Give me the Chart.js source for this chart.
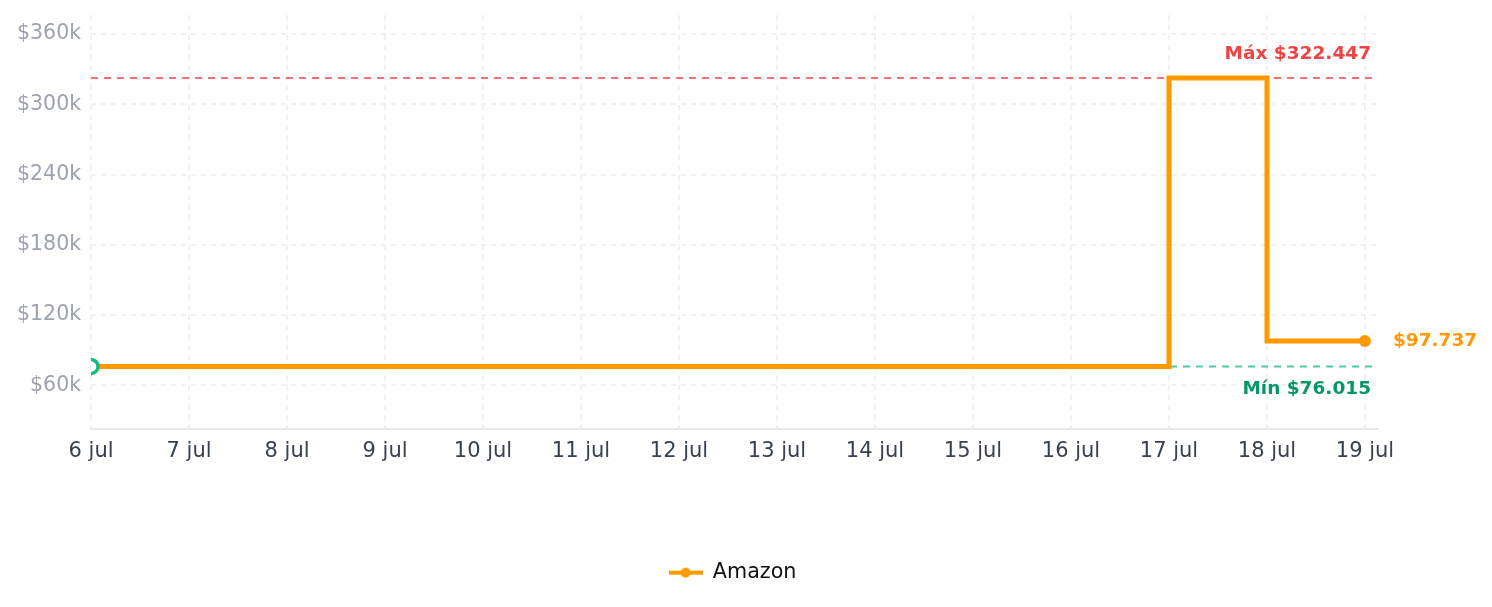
<!DOCTYPE html>
<html>
<head>
<meta charset="utf-8">
<script src="https://cdn.jsdelivr.net/npm/chart.js@4"></script>
<style>
  html, body { margin: 0; padding: 0; background: #fff; }
  #wrap { width: 1492px; height: 607px; }
</style>
</head>
<body>
<div id="wrap"><canvas id="chart"></canvas></div>
<script>
// days shown on the x axis
const days = ["6 jul", "7 jul", "8 jul", "9 jul", "10 jul", "11 jul", "12 jul",
              "13 jul", "14 jul", "15 jul", "16 jul", "17 jul", "18 jul", "19 jul"];
// Amazon price per day
const amazonPrices = [76015, 76015, 76015, 76015, 76015, 76015, 76015,
                      76015, 76015, 76015, 76015, 322447, 97737, 97737];
const yTicks = [60000, 120000, 180000, 240000, 300000, 360000];
const maxPrice = 322447;
const minPrice = 76015;
const lastPrice = 97737;

const fmt = v => "$" + v.toLocaleString("de-DE");
const FONT = "DejaVu Sans";

// legend marker: line with a dot in the middle
const marker = document.createElement("canvas");
marker.width = 34;
marker.height = 12;
const mctx = marker.getContext("2d");
mctx.fillStyle = "#ff9900";
mctx.fillRect(0, 4, 34, 4);
mctx.beginPath();
mctx.arc(17, 6, 5, 0, Math.PI * 2);
mctx.fill();

const lastIdx = amazonPrices.length - 1;

const refLines = {
    id: "refLines",
    beforeDatasetsDraw(chart) {
        const { ctx, chartArea, scales } = chart;
        const drawDash = (val, color) => {
            const y = scales.y.getPixelForValue(val);
            ctx.save();
            ctx.strokeStyle = color;
            ctx.lineWidth = 2;
            ctx.setLineDash([7, 6]);
            ctx.beginPath();
            ctx.moveTo(chartArea.left, y);
            ctx.lineTo(chartArea.right, y);
            ctx.stroke();
            ctx.restore();
        };
        drawDash(maxPrice, "rgba(239, 68, 68, 0.75)");
        drawDash(minPrice, "rgba(16, 185, 129, 0.75)");
    },
    afterDatasetsDraw(chart) {
        const { ctx, chartArea, scales } = chart;
        ctx.save();
        ctx.font = "bold 18.5px '" + FONT + "'";
        ctx.textAlign = "right";
        ctx.textBaseline = "middle";
        ctx.fillStyle = "#ef4444";
        ctx.fillText("Máx " + fmt(maxPrice), chartArea.right - 7, scales.y.getPixelForValue(maxPrice) - 24);
        ctx.fillStyle = "#059669";
        ctx.fillText("Mín " + fmt(minPrice), chartArea.right - 7, scales.y.getPixelForValue(minPrice) + 23);
        ctx.textAlign = "left";
        ctx.fillStyle = "#ff9900";
        ctx.fillText(fmt(lastPrice), scales.x.getPixelForValue(lastIdx) + 28, scales.y.getPixelForValue(lastPrice));
        ctx.restore();
    }
};

const ctx = document.getElementById("chart").getContext("2d");

new Chart(ctx, {
    type: "line",
    data: {
        datasets: [{
            label: "Amazon",
            data: amazonPrices.map((v, i) => ({ x: i, y: v })),
            borderColor: "#ff9900",
            backgroundColor: "#ff9900",
            borderWidth: 5,
            stepped: true,
            pointRadius: c => c.dataIndex === 0 ? 7 : (c.dataIndex === lastIdx ? 6 : 0),
            pointBorderWidth: c => c.dataIndex === 0 ? 3.5 : 0,
            pointBorderColor: c => c.dataIndex === 0 ? "#10b981" : "#ff9900",
            pointBackgroundColor: c => c.dataIndex === 0 ? "#ffffff" : "#ff9900",
            pointHoverRadius: 0
        }]
    },
    options: {
        responsive: true,
        maintainAspectRatio: false,
        animation: false,
        layout: { padding: { left: 7, right: 34, top: 15, bottom: 14 } },
        scales: {
            x: {
                type: "linear",
                min: 0,
                max: 13.133,
                afterFit: a => { a.height = 123; },
                grid: { color: "#f1f1f1", lineWidth: 2, drawTicks: false },
                border: { display: true, color: "#e5e7eb", width: 2, dash: [5, 5] },
                ticks: {
                    stepSize: 1,
                    includeBounds: false,
                    padding: 10,
                    color: "#374151",
                    font: { family: FONT, size: 21 },
                    maxRotation: 0,
                    callback: v => days[v]
                }
            },
            y: {
                min: 22300,
                max: 376300,
                grid: { color: "#f1f1f1", lineWidth: 2, drawTicks: false },
                border: { display: false, dash: [5, 5] },
                afterBuildTicks: a => { a.ticks = yTicks.map(v => ({ value: v })); },
                afterFit: a => { a.paddingTop = 0; a.paddingBottom = 0; },
                ticks: {
                    padding: 10,
                    color: "#9ca3af",
                    font: { family: FONT, size: 20.5 },
                    callback: v => "$" + (v / 1000) + "k"
                }
            },
            y1: {
                position: "right",
                display: true,
                grid: { display: false, drawTicks: false },
                border: { display: false },
                ticks: { display: false },
                afterFit: a => { a.width = 80; }
            }
        },
        plugins: {
            legend: {
                position: "bottom",
                labels: {
                    usePointStyle: true,
                    pointStyle: marker,
                    pointStyleWidth: 34,
                    padding: 10,
                    color: "#111111",
                    font: { family: FONT, size: 20.7 }
                }
            },
            tooltip: { enabled: false }
        }
    },
    plugins: [refLines]
});
</script>
</body>
</html>
